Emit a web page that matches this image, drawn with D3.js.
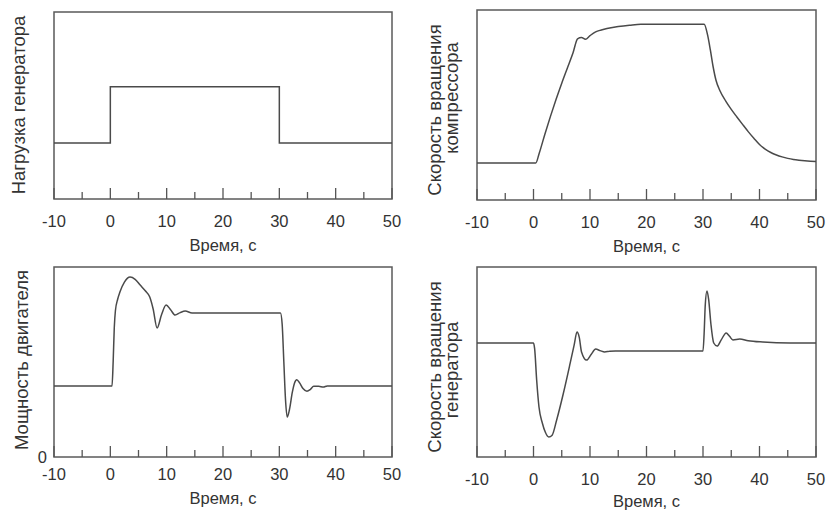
<!DOCTYPE html>
<html>
<head>
<meta charset="utf-8">
<script src="https://cdn.jsdelivr.net/npm/d3@7"></script>
<style>
  body { margin: 0; background: #fff; }
  svg { display: block; }
  text { font-family: "Liberation Sans", Arial, sans-serif; fill: #333; }
</style>
</head>
<body>
<div id="chart"></div>
<script>
// x axis ticks shared by all four panels
const xTicks = [-10, 0, 10, 20, 30, 40, 50];
const xMinorTicks = [-5, 5, 15, 25, 35, 45];
const xTitle = "Время, с";

// generator load (step)
const loadTime = [-10, 0, 0, 30, 30, 50];
const loadValue = [0.3, 0.3, 0.6, 0.6, 0.3, 0.3];

// compressor speed
const compTime = [-10, 0.4, 1, 2, 3, 4, 5, 6, 7, 7.8, 8.5, 9.2, 10, 11, 12, 13, 15, 17, 19, 30.2,
    30.8, 31.3, 31.8, 32.3, 33, 34, 35, 36, 37, 38, 39, 40, 41, 42, 43, 44, 45, 46, 47, 48, 49, 50];
const compValue = [0.195, 0.195, 0.245, 0.345, 0.44, 0.53, 0.615, 0.695, 0.775, 0.848, 0.855, 0.846, 0.865, 0.885, 0.895, 0.903, 0.913, 0.92, 0.925, 0.925,
    0.87, 0.79, 0.7, 0.63, 0.575, 0.522, 0.477, 0.437, 0.398, 0.36, 0.325, 0.292, 0.268, 0.25, 0.237, 0.227, 0.219, 0.213, 0.209, 0.206, 0.204, 0.203];

// engine power
const powerTime = [-10, 0.3, 0.5, 0.7, 0.9, 1.3, 1.7, 2.5, 3.5, 4.4, 5.3, 6.2, 7.0, 7.6, 8.3, 9.1, 9.9, 10.7, 11.5, 12.4, 13.3, 14.5,
    30.2, 30.5, 30.8, 31.1, 31.4, 31.8, 32.3, 32.7, 33.1, 33.6, 34.2, 34.9, 35.5, 36.1, 37, 37.8, 38.5, 50];
const powerValue = [0.374, 0.374, 0.5, 0.68, 0.77, 0.83, 0.868, 0.92, 0.947, 0.935, 0.905, 0.875, 0.842, 0.779, 0.679, 0.75, 0.8, 0.775, 0.747, 0.76, 0.768, 0.758,
    0.758, 0.7, 0.5, 0.3, 0.21, 0.25, 0.34, 0.39, 0.407, 0.39, 0.36, 0.346, 0.355, 0.372, 0.372, 0.368, 0.374, 0.374];

// generator speed
const genTime = [-10, 0, 0.2, 0.56, 0.97, 1.56, 2.1, 2.7, 3.3, 4.1, 5.3, 6.5, 7.2, 7.7, 8.1, 8.5, 9.4, 10.2, 11, 11.8, 12.6, 13.5, 14.5,
    30, 30.2, 30.4, 30.7, 31.0, 31.4, 31.9, 32.5, 33.2, 34.1, 34.7, 35.3, 36.5, 38, 40.6, 45.4, 50];
const genValue = [0.6, 0.6, 0.57, 0.405, 0.263, 0.179, 0.13, 0.105, 0.115, 0.195, 0.337, 0.495, 0.59, 0.658, 0.63, 0.553, 0.51, 0.54, 0.568, 0.56, 0.553, 0.557, 0.558,
    0.558, 0.65, 0.8, 0.874, 0.83, 0.7, 0.6, 0.584, 0.615, 0.653, 0.635, 0.616, 0.621, 0.612, 0.605, 0.6, 0.6];

const width = 826;
const height = 514;

const svg = d3.select("#chart").append("svg")
    .attr("width", width)
    .attr("height", height);

// panel boxes and their labels
const panels = [
    { left: 54, right: 392, top: 12, bottom: 199, time: loadTime, value: loadValue, curve: d3.curveLinear,
      tickY: 227, titleY: 251, ylabel: [{ text: "Нагрузка генератора", x: 25, y: 105 }] },
    { left: 477, right: 816, top: 10, bottom: 200, time: compTime, value: compValue, curve: d3.curveMonotoneX,
      tickY: 228, titleY: 252, ylabel: [{ text: "Скорость вращения", x: 441, y: 110 }, { text: "компрессора", x: 458, y: 98 }] },
    { left: 54, right: 392, top: 267, bottom: 457, time: powerTime, value: powerValue, curve: d3.curveMonotoneX,
      tickY: 480, titleY: 504, zero: true, ylabel: [{ text: "Мощность двигателя", x: 28, y: 360 }] },
    { left: 477, right: 816, top: 267, bottom: 457, time: genTime, value: genValue, curve: d3.curveMonotoneX,
      tickY: 485, titleY: 507, ylabel: [{ text: "Скорость вращения", x: 441, y: 367 }, { text: "генератора", x: 458, y: 370 }] }
];

panels.forEach(function(p) {
    const x = d3.scaleLinear().domain([-10, 50]).range([p.left, p.right]);
    const y = d3.scaleLinear().domain([0, 1]).range([p.bottom, p.top]);
    const g = svg.append("g");

    // frame
    g.append("rect")
        .attr("x", p.left)
        .attr("y", p.top)
        .attr("width", p.right - p.left)
        .attr("height", p.bottom - p.top)
        .attr("fill", "none")
        .attr("stroke", "#5a5a5a")
        .attr("stroke-width", 1.5);

    // inward ticks on the bottom edge
    g.selectAll(".major")
        .data(xTicks).enter()
        .append("line")
        .attr("x1", d => x(d)).attr("x2", d => x(d))
        .attr("y1", p.bottom).attr("y2", p.bottom - 11)
        .attr("stroke", "#555").attr("stroke-width", 1.3);
    g.selectAll(".minor")
        .data(xMinorTicks).enter()
        .append("line")
        .attr("x1", d => x(d)).attr("x2", d => x(d))
        .attr("y1", p.bottom).attr("y2", p.bottom - 7)
        .attr("stroke", "#555").attr("stroke-width", 1.3);

    g.selectAll(".tick-label")
        .data(xTicks).enter()
        .append("text")
        .attr("x", d => x(d))
        .attr("y", p.tickY)
        .attr("text-anchor", "middle")
        .style("font-size", "16.5px")
        .text(d => d);

    g.append("text")
        .attr("x", (p.left + p.right) / 2)
        .attr("y", p.titleY)
        .attr("text-anchor", "middle")
        .style("font-size", "16.5px")
        .text(xTitle);

    if (p.zero) {
        g.append("text")
            .attr("x", p.left - 7)
            .attr("y", y(0) + 6)
            .attr("text-anchor", "end")
            .style("font-size", "16.5px")
            .text("0");
    }

    p.ylabel.forEach(function(l) {
        g.append("text")
            .attr("transform", "translate(" + l.x + "," + l.y + ") rotate(-90)")
            .attr("text-anchor", "middle")
            .style("font-size", "18.5px")
            .text(l.text);
    });

    // the signal
    const line = d3.line()
        .x(i => x(p.time[i]))
        .y(i => y(p.value[i]))
        .curve(p.curve);
    g.append("path")
        .datum(d3.range(p.time.length))
        .attr("d", line)
        .attr("fill", "none")
        .attr("stroke", "#4a4a4a")
        .attr("stroke-width", 1.5);
});
</script>
</body>
</html>
